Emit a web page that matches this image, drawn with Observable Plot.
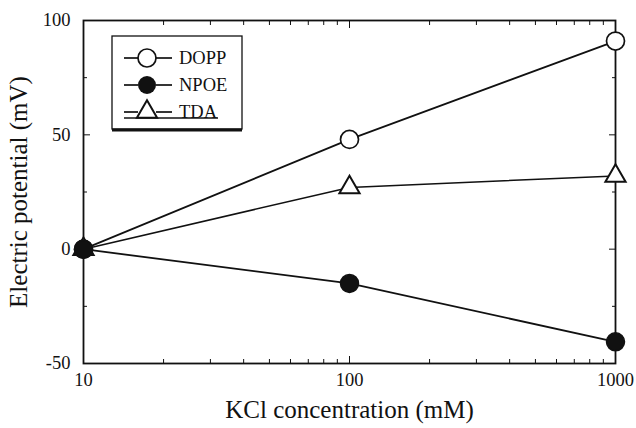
<!DOCTYPE html>
<html><head><meta charset="utf-8">
<script src="https://cdn.jsdelivr.net/npm/d3@7"></script>
<script src="https://cdn.jsdelivr.net/npm/@observablehq/plot@0.6"></script>
<style>
body{margin:0;background:#fff}
#chart{position:relative;width:636px;height:428px}
#chart svg, #chart svg text{font-family:"Liberation Serif","Times New Roman",serif !important}
</style>
</head><body><div id="chart"></div>
<script>
const conc = [10, 100, 1000];
const dopp = [0, 48, 91];
const npoe = [0, -15, -40.5];
const tda = [0, 27, 32];
const yMajor = [-50, 0, 50, 100];
const yMinor = [-25, 25, 75];
const xMajor = [10, 100, 1000];
const xMinor = [20,30,40,50,60,70,80,90,200,300,400,500,600,700,800,900];
const seriesNames = ["DOPP", "NPOE", "TDA"];
const xTitle = "KCl concentration (mM)";
const yTitle = "Electric potential (mV)";

const font = "'Liberation Serif', 'Times New Roman', serif";
const rows = (vals) => conc.map((c, i) => ({x: c, y: vals[i]}));

const plot = Plot.plot({
  width: 636, height: 428,
  marginLeft: 83, marginRight: 21, marginTop: 20, marginBottom: 65,
  style: {fontFamily: font, background: "#fff", color: "#111"},
  x: {type: "log", domain: [10, 1000]},
  y: {domain: [-50, 100]},
  marks: [
    Plot.axisY({anchor: "left", ticks: yMajor, tickSize: 0, tickPadding: 13, fontSize: 18.5, tickFormat: d => String(d), label: null}),
    Plot.axisY({anchor: "left", ticks: yMajor, tickSize: -7, text: null, label: null}),
    Plot.axisY({anchor: "left", ticks: yMinor, tickSize: -4, text: null, label: null}),
    Plot.axisY({anchor: "right", ticks: yMajor, tickSize: -7, text: null, label: null}),
    Plot.axisY({anchor: "right", ticks: yMinor, tickSize: -4, text: null, label: null}),
    Plot.axisX({anchor: "bottom", ticks: xMajor, tickSize: 0, tickPadding: 9, fontSize: 18.5, tickFormat: d => String(d), label: null}),
    Plot.axisX({anchor: "bottom", ticks: xMajor, tickSize: -7, text: null, label: null}),
    Plot.axisX({anchor: "bottom", ticks: xMinor, tickSize: -4, text: null, label: null}),
    Plot.axisX({anchor: "top", ticks: xMajor, tickSize: -7, text: null, label: null}),
    Plot.axisX({anchor: "top", ticks: xMinor, tickSize: -4, text: null, label: null}),
    Plot.frame({stroke: "#111", strokeWidth: 1.8}),
    Plot.text([xTitle], {frameAnchor: "bottom", dy: 54, fontSize: 25, fill: "#111", textAnchor: "middle"}),
    Plot.text([yTitle], {frameAnchor: "left", dx: -65, rotate: -90, fontSize: 25, fill: "#111", textAnchor: "middle"}),
    Plot.line(rows(dopp), {x: "x", y: "y", stroke: "#111", strokeWidth: 1.8}),
    Plot.line(rows(tda), {x: "x", y: "y", stroke: "#111", strokeWidth: 1.5}),
    Plot.line(rows(npoe), {x: "x", y: "y", stroke: "#111", strokeWidth: 1.8}),
    Plot.dot(rows(dopp), {x: "x", y: "y", r: 9, fill: "#fff", stroke: "#111", strokeWidth: 1.7}),
    Plot.dot(rows(tda), {x: "x", y: "y", r: 7.5, symbol: "triangle", fill: "#fff", stroke: "#111", strokeWidth: 2}),
    Plot.dot(rows(npoe), {x: "x", y: "y", r: 9, fill: "#111", stroke: "#111"})
  ]
});
document.getElementById("chart").appendChild(plot);

// Legend box
const svg = d3.select(plot);
const lg = svg.append("g").attr("fill", "#111");
lg.append("rect").attr("x", 112).attr("y", 36).attr("width", 130).attr("height", 93)
  .attr("fill", "#fff").attr("stroke", "#111").attr("stroke-width", 1.3);
lg.append("line").attr("x1", 112).attr("x2", 242).attr("y1", 130).attr("y2", 130)
  .attr("stroke", "#111").attr("stroke-width", 3);
const sym = [
  g => g.append("circle").attr("r", 9).attr("fill", "#fff").attr("stroke", "#111").attr("stroke-width", 1.7),
  g => g.append("circle").attr("r", 9).attr("fill", "#111"),
  g => g.append("path").attr("d", d3.symbol(d3.symbolTriangle, Math.PI * 7.5 * 7.5)()).attr("fill", "#fff").attr("stroke", "#111").attr("stroke-width", 2)
];
seriesNames.forEach((name, i) => {
  const yy = 58 + i * 27;
  const g = lg.append("g");
  g.append("line").attr("x1", 124).attr("x2", 138).attr("y1", yy).attr("y2", yy).attr("stroke", "#111").attr("stroke-width", 1.7);
  g.append("line").attr("x1", 156).attr("x2", 172).attr("y1", yy).attr("y2", yy).attr("stroke", "#111").attr("stroke-width", 1.7);
  const s = g.append("g").attr("transform", `translate(147,${yy})`);
  sym[i](s);
  g.append("text").attr("x", 179).attr("y", yy + 6).attr("font-size", 18.5).attr("text-anchor", "start").text(name);
});
lg.append("line").attr("x1", 124).attr("x2", 218).attr("y1", 118).attr("y2", 118).attr("stroke", "#111").attr("stroke-width", 1.4);
</script></body></html>
